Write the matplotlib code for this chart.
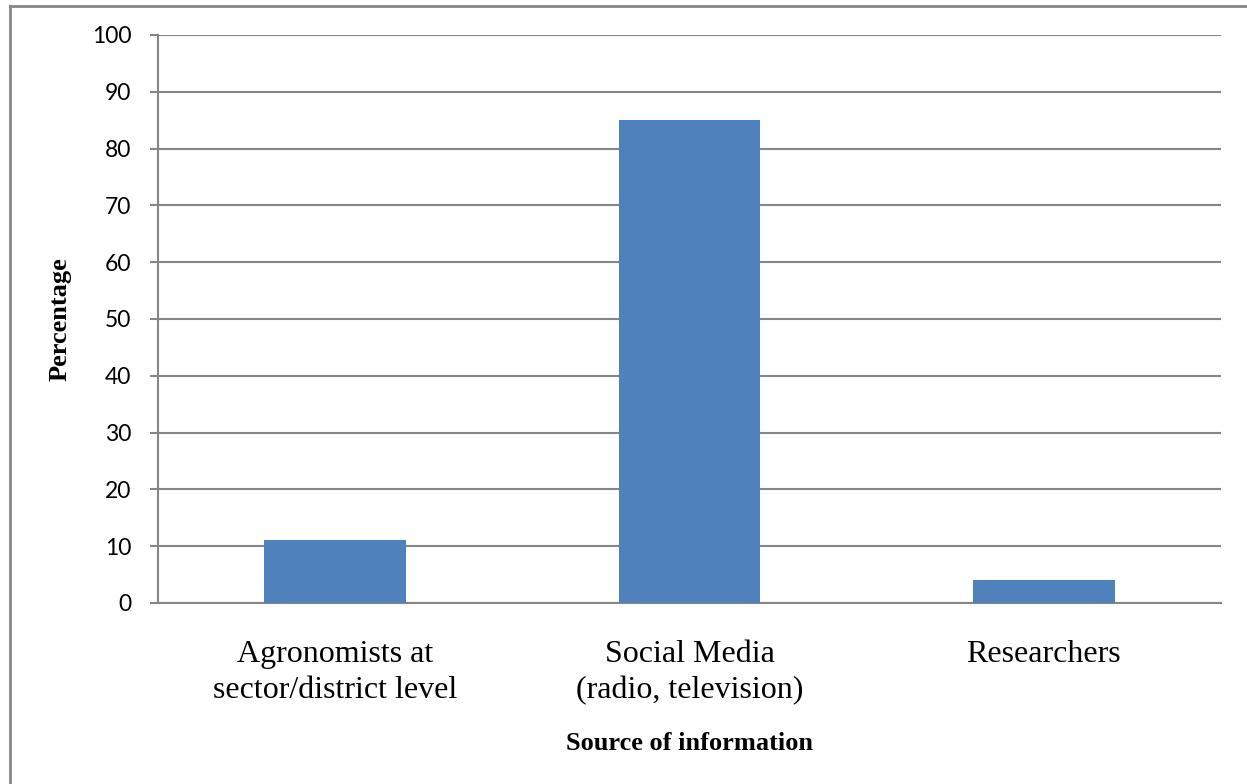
import matplotlib
matplotlib.use("Agg")
import matplotlib.pyplot as plt
from matplotlib.lines import Line2D

categories = ["Agronomists at\nsector/district level", "Social Media\n(radio, television)", "Researchers"]
percentages = [11, 85, 4]
y_ticks = [0, 10, 20, 30, 40, 50, 60, 70, 80, 90, 100]

grey = "#868686"

fig = plt.figure(figsize=(12.47, 7.84), dpi=100)
ax = fig.add_axes([0.1267, 0.2309, 0.8524, 0.7245])

x = range(len(categories))
ax.bar(x, percentages, width=0.4, color="#4F81BD", zorder=3)

ax.set_xlim(-0.5, len(categories) - 0.5)
ax.set_ylim(0, 100)
ax.set_yticks(y_ticks)
ax.set_yticklabels([str(v) for v in y_ticks], fontsize=16.5, family="Lato")
ax.set_xticks(list(x))
ax.set_xticklabels(categories, fontsize=23, family="Liberation Serif", linespacing=1.29)

ax.yaxis.grid(True, color=grey, linewidth=1.5, zorder=0)
ax.tick_params(axis="y", length=6, width=1.5, color=grey, pad=13)
ax.tick_params(axis="x", length=0, pad=27)

for side in ["top", "right"]:
    ax.spines[side].set_visible(False)
for side in ["left", "bottom"]:
    ax.spines[side].set_color(grey)
    ax.spines[side].set_linewidth(1.5)

ax.set_ylabel("Percentage", fontsize=19, family="Liberation Serif", fontweight="bold", labelpad=14.5)
ax.set_xlabel("Source of information", fontsize=19, family="Liberation Serif", fontweight="bold", labelpad=19.5)

# frame around the chart area (left and top edges only)
fig.add_artist(Line2D([10 / 1247, 10 / 1247], [0, 1 - 6 / 784], transform=fig.transFigure,
                      color=grey, linewidth=2))
fig.add_artist(Line2D([10 / 1247, 1], [1 - 6 / 784, 1 - 6 / 784], transform=fig.transFigure,
                      color=grey, linewidth=2))

fig.savefig("out.png", dpi=100)
